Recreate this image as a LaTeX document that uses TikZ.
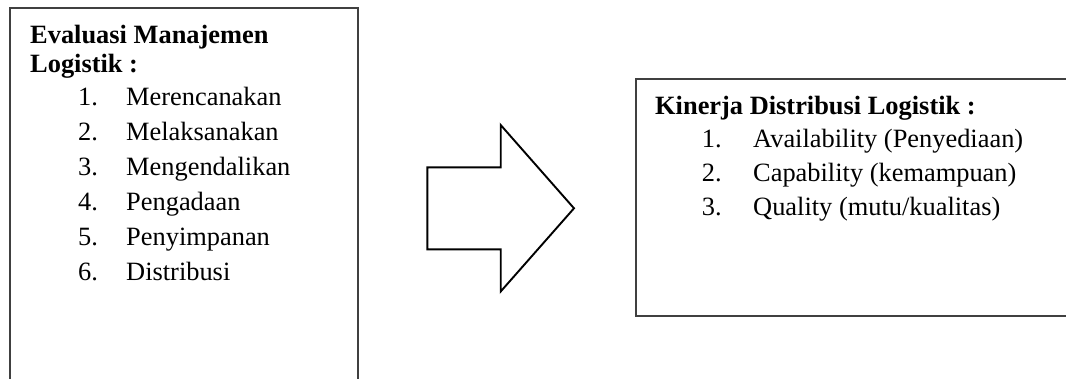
\documentclass[tikz,border=0pt]{standalone}
\usepackage{fontspec}
\setmainfont{Liberation Serif}
\usepackage{tikz}
\tikzset{
    txt/.style={anchor=base west,inner sep=0pt,font=\fontsize{26.4}{30}\selectfont},%text lines
    ttl/.style={txt,font=\fontsize{26.4}{30}\selectfont\bfseries},
    frame/.style={draw=black!75,line width=1.1pt},
    blockarrow/.style={draw=black,line width=1.9pt,fill=white}
    }
\begin{document}
\begin{tikzpicture}[line cap=round,line join=miter,x=1pt,y=-1pt]
\useasboundingbox (0,0) rectangle (1066,378);
% left box, open at the bottom
\draw[frame] (10,395) -- (10,8) -- (358,8) -- (358,395);
\node[ttl] (ltitle1) at (30,43.5) {Evaluasi Manajemen};
\node[ttl] (ltitle2) at (30,72.7) {Logistik :};
\foreach \t [count=\i] in {Merencanakan,Melaksanakan,Mengendalikan,Pengadaan,Penyimpanan,Distribusi}
{
\node[txt] (ln\i) at (78,{105+35.15*(\i-1)}) {\i.};
\node[txt] (lm\i) at (126,{105+35.15*(\i-1)}) {\t};
}
% big arrow
\draw[blockarrow] (427.3,167.3) -- (500.7,167.3) -- (500.7,125) -- (574,208.3) -- (500.7,291.5) -- (500.7,249.3) -- (427.3,249.3) -- cycle;
% right box, open at the right
\draw[frame] (1080,79) -- (636,79) -- (636,316) -- (1080,316);
\node[ttl] (rtitle) at (655,114.5) {Kinerja Distribusi Logistik :};
\foreach \t [count=\i] in {Availability (Penyediaan),Capability (kemampuan),Quality (mutu/kualitas)}
{
\node[txt] (rn\i) at (701.7,{147.5+33.8*(\i-1)}) {\i.};
\node[txt] (rm\i) at (753,{147.5+33.8*(\i-1)}) {\t};
}
\end{tikzpicture}
\end{document}
